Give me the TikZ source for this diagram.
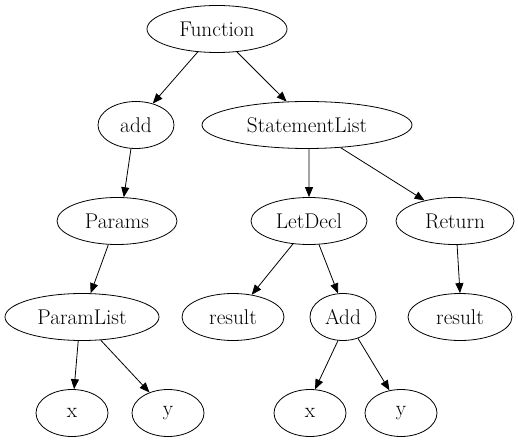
\documentclass[tikz,border=0pt]{standalone}
\usetikzlibrary{shapes.geometric,arrows.meta}
\begin{document}
\begin{tikzpicture}[x=1pt,y=-1pt,
  nd/.style={draw,ellipse,minimum height=47pt,inner sep=0pt,line width=0.8pt,font=\fontsize{21.3pt}{23pt}\selectfont},
  edge/.style={draw,-{Triangle[length=10pt,width=8pt]},line width=0.8pt}]
\useasboundingbox (0,0) rectangle (518,443);
\node[nd,minimum width=140pt] (fn) at (217,29) {Function};
\node[nd,minimum width=76pt] (add) at (136,125) {add};
\node[nd,minimum width=210pt] (sl) at (307,125) {StatementList};
\node[nd,minimum width=120pt] (params) at (117,221) {Params};
\node[nd,minimum width=116pt] (let) at (309,221) {LetDecl};
\node[nd,minimum width=118pt] (ret) at (455,221) {Return};
\node[nd,minimum width=154pt] (pl) at (82,317) {ParamList};
\node[nd,minimum width=102pt] (res1) at (233,317) {result};
\node[nd,minimum width=66pt] (addop) at (343,317) {Add};
\node[nd,minimum width=104pt] (res2) at (460,317) {result};
\node[nd,minimum width=72pt] (x1) at (72,413) {x};
\node[nd,minimum width=72pt] (y1) at (168,413) {y};
\node[nd,minimum width=72pt] (x2) at (310,413) {x};
\node[nd,minimum width=72pt] (y2) at (401,413) {y};
\draw[edge] (fn.230) -- (add.52);
\draw[edge] (fn.311) -- (sl.131);
\draw[edge] (add.258) -- (params.74);
\draw[edge] (params) -- (pl);
\draw[edge] (pl.261) -- (x1.85);
\draw[edge] (pl.309) -- (y1.132);
\draw[edge] (sl.275) -- (let.90);
\draw[edge] (sl.326) -- (ret.146);
\draw[edge] (let.235) -- (res1.50);
\draw[edge] (let.293) -- (addop.102);
\draw[edge] (addop.258) -- (x2.78);
\draw[edge] (addop.305) -- (y2.117);
\draw[edge] (ret.275) -- (res2.90);
\end{tikzpicture}
\end{document}
